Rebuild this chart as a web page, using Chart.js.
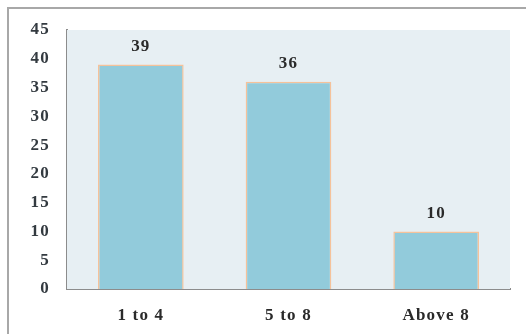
<!DOCTYPE html>
<html>
<head>
<meta charset="utf-8">
<script src="https://cdn.jsdelivr.net/npm/chart.js@4"></script>
<style>
  html, body { margin: 0; padding: 0; background: #fff; }
  #wrap { position: relative; width: 526px; height: 334px; }
  #frame { position: absolute; left: 7px; top: 7px; width: 530px; height: 340px; border: 2px solid #a8a8a8; box-sizing: border-box; }
  canvas { position: absolute; left: 0; top: 0; }
</style>
</head>
<body>
<div id="wrap">
  <div id="frame"></div>
  <canvas id="chart" width="526" height="334"></canvas>
</div>
<script>
const categories = ['1 to 4', '5 to 8', 'Above 8'];
const counts = [39, 36, 10];
const yTicks = [0, 5, 10, 15, 20, 25, 30, 35, 40, 45];

const textFont = { family: 'Liberation Serif', size: 17, weight: 'bold' };

// light panel behind the bars plus the value above each bar
const panelAndLabels = {
  id: 'panelAndLabels',
  beforeLayout(chart) {
    chart.ctx.letterSpacing = '1.2px';
  },
  beforeDatasetsDraw(chart) {
    const { ctx, chartArea: a } = chart;
    ctx.save();
    ctx.fillStyle = '#e7eff3';
    ctx.fillRect(a.left, a.top, a.right - a.left, a.bottom - a.top);
    ctx.restore();
  },
  afterDatasetsDraw(chart) {
    const { ctx } = chart;
    const meta = chart.getDatasetMeta(0);
    ctx.save();
    ctx.font = 'bold 17px "Liberation Serif"';
    ctx.fillStyle = '#2a2a2a';
    ctx.textAlign = 'center';
    ctx.textBaseline = 'middle';
    meta.data.forEach((bar, i) => {
      ctx.fillText(String(counts[i]), bar.x, bar.y - 18);
    });
    ctx.restore();
  }
};

const ctx = document.getElementById('chart').getContext('2d');
new Chart(ctx, {
  type: 'bar',
  data: {
    labels: categories,
    datasets: [{
      data: counts,
      backgroundColor: '#92cbdb',
      borderColor: '#f5c29a',
      borderWidth: 1.5,
      barPercentage: 0.58,
      categoryPercentage: 1
    }]
  },
  options: {
    responsive: false,
    animation: false,
    layout: { padding: { top: 30, right: 16, left: 0, bottom: 0 } },
    plugins: { legend: { display: false }, tooltip: { enabled: false } },
    scales: {
      x: {
        grid: { display: false, drawTicks: false },
        border: { color: '#8c8c8c', width: 2 },
        ticks: { color: '#2a2a2a', padding: 16, font: textFont },
        afterFit(s) { s.height = 45; }
      },
      y: {
        min: 0,
        max: 45,
        afterBuildTicks(s) { s.ticks = yTicks.map(v => ({ value: v })); },
        grid: { display: false, drawTicks: false },
        border: { color: '#8c8c8c', width: 2 },
        ticks: { color: '#333a40', padding: 17, font: textFont },
        afterFit(s) { s.width = 67; }
      }
    }
  },
  plugins: [panelAndLabels]
});
</script>
</body>
</html>
